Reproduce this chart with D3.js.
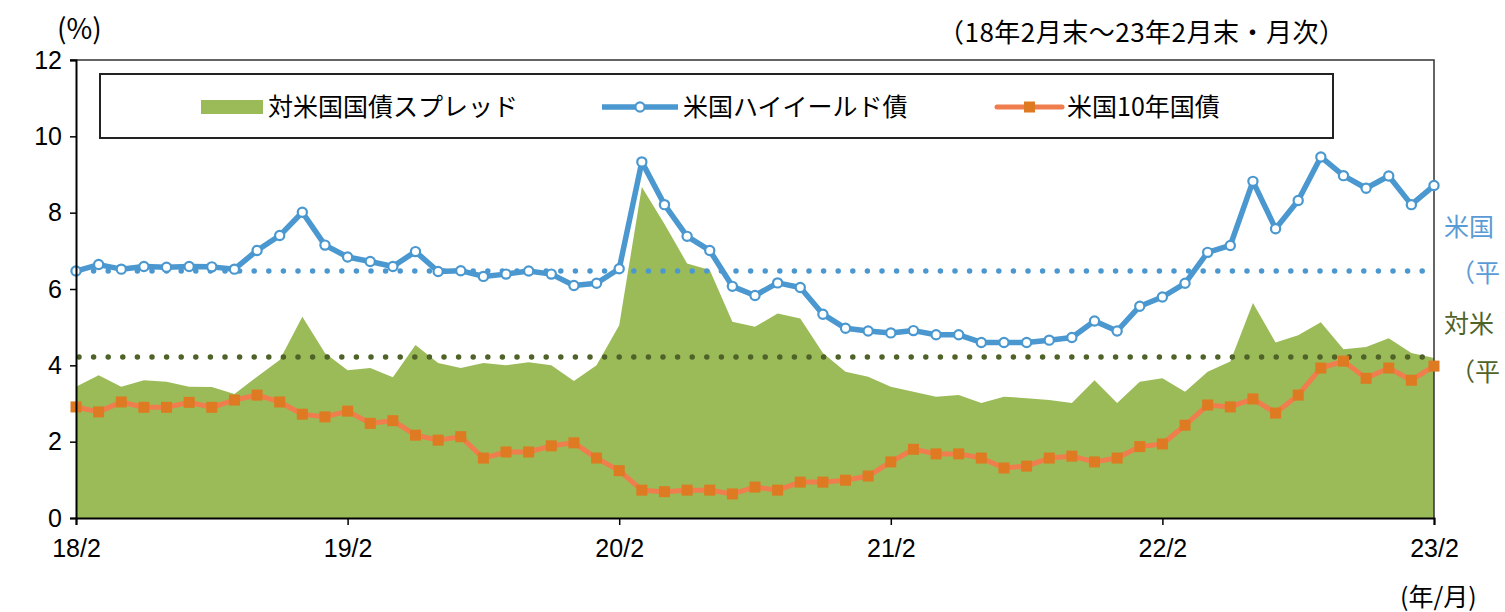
<!DOCTYPE html>
<html>
<head>
<meta charset="utf-8">
<script src="https://cdn.jsdelivr.net/npm/d3@7"></script>
<style>
  body { margin: 0; background: #fff; }
  svg { display: block; }
</style>
</head>
<body>
<svg id="chart" width="1505" height="612"></svg>
<script>
// DATA (monthly, 18/2 .. 23/2)
var monthLabels = ["18/2", "19/2", "20/2", "21/2", "22/2", "23/2"];
var highYield = [6.47,6.64,6.52,6.59,6.57,6.59,6.58,6.52,7.01,7.40,8.01,7.15,6.84,6.72,6.59,6.98,6.46,6.48,6.33,6.39,
                 6.47,6.39,6.09,6.15,6.53,9.33,8.21,7.38,7.01,6.07,5.83,6.16,6.04,5.34,4.97,4.90,4.85,4.91,4.80,4.80,
                 4.60,4.60,4.60,4.66,4.73,5.16,4.90,5.55,5.79,6.15,6.96,7.14,8.82,7.58,8.32,9.46,8.97,8.64,8.96,8.21,8.71];
var treasury10y = [2.91,2.78,3.04,2.90,2.90,3.03,2.90,3.09,3.22,3.04,2.72,2.65,2.80,2.48,2.55,2.17,2.04,2.13,1.57,1.73,
                   1.73,1.89,1.97,1.57,1.24,0.73,0.69,0.73,0.73,0.63,0.81,0.73,0.94,0.94,0.99,1.10,1.47,1.80,1.68,1.68,
                   1.57,1.31,1.36,1.57,1.62,1.47,1.57,1.87,1.94,2.43,2.96,2.91,3.12,2.75,3.22,3.93,4.11,3.66,3.93,3.61,3.98];
var spread = [3.44,3.74,3.44,3.61,3.57,3.44,3.43,3.25,3.70,4.14,5.27,4.32,3.87,3.93,3.69,4.53,4.06,3.93,4.06,4.00,
              4.08,4.00,3.59,4.00,5.05,8.67,7.70,6.67,6.50,5.14,5.01,5.36,5.23,4.32,3.83,3.70,3.44,3.31,3.18,3.22,
              3.01,3.18,3.14,3.09,3.01,3.61,3.01,3.57,3.66,3.31,3.83,4.10,5.63,4.60,4.79,5.13,4.42,4.48,4.71,4.32,4.19];
var averages = [6.47, 4.22];           // high yield avg, spread avg
var yTicks = [0, 2, 4, 6, 8, 10, 12];
var legendNames = ["対米国国債スプレッド", "米国ハイイールド債", "米国10年国債"];

// COLORS / FONTS
var cGreen = "#9bbb59", cBlue = "#4a98cf", cOrangeLine = "#ef7d4d", cOrangeMark = "#dd7a22", cOlive = "#4f6228";
var numFont = "'Liberation Sans', Arial, sans-serif";
var jpFont = "'Noto Sans CJK JP', 'Noto Sans', sans-serif";

var svg = d3.select("#chart");
svg.append("rect").attr("width", 1505).attr("height", 612).attr("fill", "#fff");

var x = d3.scaleLinear().domain([0, 60]).range([76, 1434]);
var y = d3.scaleLinear().domain([0, 12]).range([518, 60]);

// AREA (spread)
svg.append("path").datum(spread)
  .attr("fill", cGreen)
  .attr("d", d3.area().x(function(d, i){ return x(i); }).y0(y(0)).y1(function(d){ return y(d); }));

// AVERAGE DOTTED LINES
svg.selectAll(".avg").data(averages).enter().append("line")
  .attr("x1", x(0) + 3).attr("x2", x(60) - 10)
  .attr("y1", function(d){ return y(d); }).attr("y2", function(d){ return y(d); })
  .attr("stroke", function(d, i){ return i === 0 ? cBlue : cOlive; })
  .attr("stroke-width", 5.5)
  .attr("stroke-linecap", "round")
  .attr("stroke-dasharray", "0 14.6");

// FRAME (top / right)
svg.append("path").attr("d", "M70,60H1434V518")
  .attr("fill", "none").attr("stroke", "#333").attr("stroke-width", 1.5);

// 10Y LINE
var line = d3.line().x(function(d, i){ return x(i); }).y(function(d){ return y(d); });
svg.append("path").datum(treasury10y)
  .attr("fill", "none").attr("stroke", cOrangeLine).attr("stroke-width", 5).attr("stroke-linejoin", "round")
  .attr("d", line);
svg.selectAll(".sq").data(treasury10y).enter().append("rect")
  .attr("x", function(d, i){ return x(i) - 5.5; }).attr("y", function(d){ return y(d) - 5.5; })
  .attr("width", 11).attr("height", 11).attr("fill", cOrangeMark);

// HIGH YIELD LINE
svg.append("path").datum(highYield)
  .attr("fill", "none").attr("stroke", cBlue).attr("stroke-width", 5.5).attr("stroke-linejoin", "round")
  .attr("d", line);
svg.selectAll(".dot").data(highYield).enter().append("circle")
  .attr("cx", function(d, i){ return x(i); }).attr("cy", function(d){ return y(d); })
  .attr("r", 4.6).attr("fill", "#fff").attr("stroke", cBlue).attr("stroke-width", 2.2);

// AXES
var yAxis = d3.axisLeft(y).tickValues(yTicks).tickSize(6).tickPadding(8).tickFormat(d3.format("d"));
var gy = svg.append("g").attr("transform", "translate(76,0)").call(yAxis);
gy.select(".domain").attr("stroke", "#000").attr("stroke-width", 2);
gy.selectAll(".tick line").attr("stroke", "#000").attr("stroke-width", 1.5);
gy.selectAll("text").attr("font-family", numFont).attr("font-size", 25).attr("fill", "#000");

var xAxis = d3.axisBottom(x).tickValues(d3.range(0, 61, 12)).tickSize(7).tickPadding(14)
  .tickFormat(function(d, i){ return monthLabels[i]; });
var gx = svg.append("g").attr("transform", "translate(0,518)").call(xAxis);
gx.select(".domain").attr("stroke", "#000").attr("stroke-width", 2);
gx.selectAll(".tick line").attr("stroke", "#000").attr("stroke-width", 1.5);
gx.selectAll("text").attr("font-family", numFont).attr("font-size", 25).attr("fill", "#000");

// LEGEND
svg.append("rect").attr("x", 100).attr("y", 74).attr("width", 1233).attr("height", 64)
  .attr("fill", "#fff").attr("stroke", "#222").attr("stroke-width", 2);
var ly = 107;
svg.append("rect").attr("x", 201).attr("y", ly - 7).attr("width", 62).attr("height", 14).attr("fill", cGreen);
svg.append("line").attr("x1", 602).attr("x2", 678).attr("y1", ly).attr("y2", ly)
  .attr("stroke", cBlue).attr("stroke-width", 5.5);
svg.append("circle").attr("cx", 640).attr("cy", ly).attr("r", 4.6)
  .attr("fill", "#fff").attr("stroke", cBlue).attr("stroke-width", 2.2);
svg.append("line").attr("x1", 997).attr("x2", 1062).attr("y1", ly).attr("y2", ly)
  .attr("stroke", cOrangeLine).attr("stroke-width", 5).attr("stroke-linecap", "round");
svg.append("rect").attr("x", 1024).attr("y", ly - 5.5).attr("width", 11).attr("height", 11).attr("fill", cOrangeMark);
svg.selectAll(".legtext").data(legendNames).enter().append("text")
  .attr("x", function(d, i){ return [268, 683, 1067][i]; })
  .attr("y", ly).attr("dy", "0.35em")
  .attr("font-family", jpFont).attr("font-size", 25).attr("fill", "#000")
  .text(function(d){ return d; });

// TITLES
svg.append("text").attr("x", 57).attr("y", 39).attr("font-family", jpFont).attr("font-size", 28).text("(%)");
svg.append("text").attr("x", 938).attr("y", 42).attr("font-family", jpFont).attr("font-size", 26)
  .attr("textLength", 407).attr("lengthAdjust", "spacing")
  .text("（18年2月末～23年2月末・月次）");
svg.append("text").attr("x", 1400).attr("y", 606).attr("font-family", jpFont).attr("font-size", 25).text("(年/月)");

// RIGHT SIDE LABELS (cut off by the page edge)
var sideLabels = [
  {t: "米国", x: 1444, y: 236, c: "#5b9bd5"},
  {t: "（平", x: 1450, y: 282, c: "#5b9bd5"},
  {t: "対米", x: 1444, y: 333, c: cOlive},
  {t: "（平", x: 1450, y: 381, c: cOlive}
];
svg.selectAll(".side").data(sideLabels).enter().append("text")
  .attr("x", function(d){ return d.x; }).attr("y", function(d){ return d.y; })
  .attr("font-family", jpFont).attr("font-size", 25).attr("fill", function(d){ return d.c; })
  .text(function(d){ return d.t; });
</script>
</body>
</html>
